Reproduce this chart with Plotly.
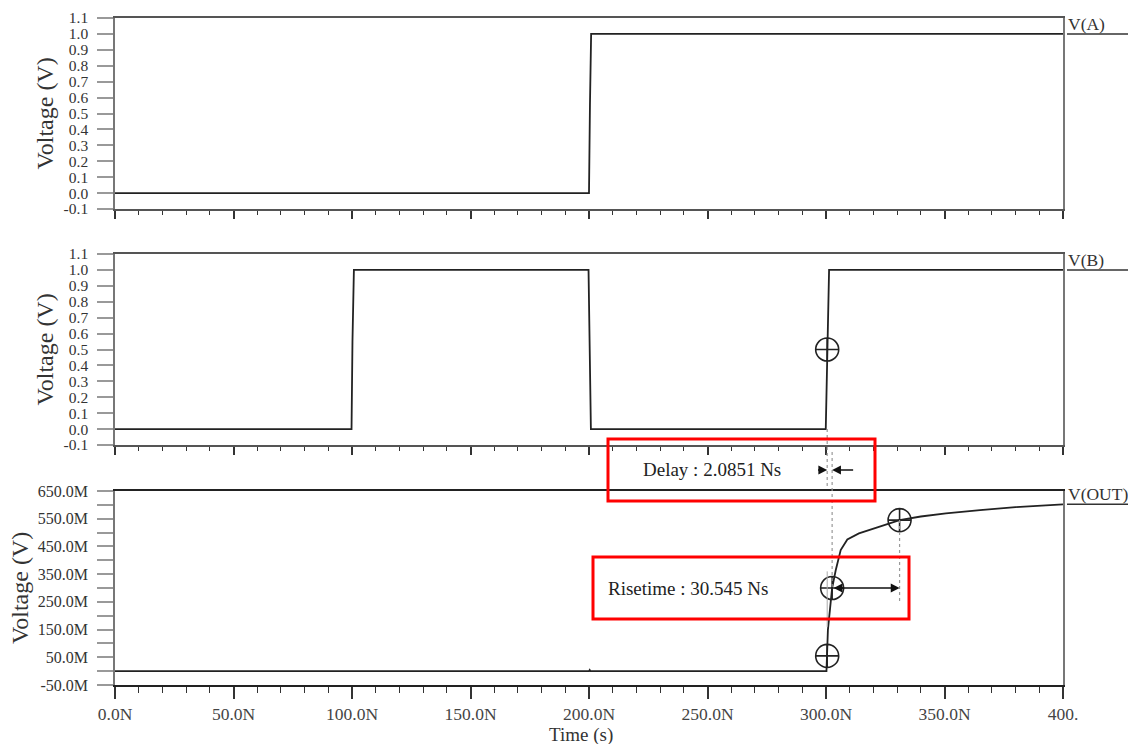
import plotly.graph_objects as go

# ---------------- data ----------------
time_a = [0, 200.0, 200.4, 200.9, 400]
v_a = [0, 0, 0.55, 1.0, 1.0]

time_b = [0, 99.8, 100.2, 100.8, 199.8, 200.2, 200.8, 299.9, 300.5, 301.3, 400]
v_b = [0, 0, 0.55, 1.0, 1.0, 0.45, 0, 0, 0.5, 1.0, 1.0]

time_out = [0, 200.0, 200.3, 200.6, 300.2, 300.5, 300.8, 301.7, 302.585, 304.1,
            306.2, 309.0, 313.9, 322.0, 331.045, 340.0, 350.6, 365.0, 380.0, 400.0]
v_out = [0, 0, 0.004, 0, 0, 0.055, 0.148, 0.225, 0.30, 0.364,
         0.437, 0.475, 0.497, 0.52, 0.545, 0.558, 0.569, 0.581, 0.592, 0.602]

delay_ns = 2.0851
rise_ns = 30.545
t50_b = 300.5                 # 50% point of V(B)
t50_out = t50_b + delay_ns    # 50% point of V(OUT)
t10_out = 300.5               # 10% point of V(OUT)
t90_out = t10_out + rise_ns   # 90% point of V(OUT)
v10_out, v50_out, v90_out = 0.055, 0.30, 0.545

x_major = [0, 50, 100, 150, 200, 250, 300, 350, 400]
x_labels = ["0.0N", "50.0N", "100.0N", "150.0N", "200.0N", "250.0N", "300.0N", "350.0N", "400."]
y_ab_vals = [-0.1, 0.0, 0.1, 0.2, 0.3, 0.4, 0.5, 0.6, 0.7, 0.8, 0.9, 1.0, 1.1]
y_ab_labels = ["-0.1", "0.0", "0.1", "0.2", "0.3", "0.4", "0.5", "0.6", "0.7", "0.8", "0.9", "1.0", "1.1"]
y_out_vals = [-0.05, 0.0, 0.05, 0.10, 0.15, 0.20, 0.25, 0.30, 0.35, 0.40, 0.45, 0.50, 0.55, 0.60, 0.65]
y_out_labels = ["-50.0M", "", "50.0M", "", "150.0M", "", "250.0M", "", "350.0M", "", "450.0M", "", "550.0M", "", "650.0M"]

# ---------------- layout geometry (page pixels; page body has an 8px margin) ----------------
BODY = 8
PAGE_W, PAGE_H = 1136, 744
PL, PR, PT, PB = 115, 1063, 18, 685          # plot area in page pixels
W, H = PAGE_W - BODY, PAGE_H - BODY
ML, MT = PL - BODY, PT - BODY
MR, MB = W + BODY - PR, H + BODY - PB
PW, PH = PR - PL, PB - PT


def px_x(p):
    return (p - PL) / PW


def px_y(p):
    return (PB - p) / PH


dom1 = [px_y(209), 1.0]
dom2 = [px_y(445), px_y(254)]
dom3 = [0.0, px_y(491)]
rng_ab = [-0.1, 1.1]
rng_out = [-0.05, 0.65]


def data_to_paper_y(v, dom, rng):
    return dom[0] + (v - rng[0]) / (rng[1] - rng[0]) * (dom[1] - dom[0])


SERIF = "Liberation Serif, Times New Roman, serif"
TRACE = "#222222"

fig = go.Figure()
line_style = dict(color=TRACE, width=1.8)
fig.add_trace(go.Scatter(x=time_a, y=v_a, mode="lines", line=line_style, xaxis="x", yaxis="y"))
fig.add_trace(go.Scatter(x=time_b, y=v_b, mode="lines", line=line_style, xaxis="x2", yaxis="y2"))
fig.add_trace(go.Scatter(x=time_out, y=v_out, mode="lines", line=line_style, xaxis="x3", yaxis="y3"))

cursor_marker = dict(symbol="circle-cross-open", size=23, color=TRACE, line=dict(width=1.6, color=TRACE))
fig.add_trace(go.Scatter(x=[t50_b], y=[0.5], mode="markers", marker=cursor_marker, xaxis="x2", yaxis="y2"))
fig.add_trace(go.Scatter(x=[t10_out, t50_out, t90_out], y=[v10_out, v50_out, v90_out], mode="markers",
                         marker=cursor_marker, xaxis="x3", yaxis="y3"))


def xaxis_cfg(anchor, bottom=False):
    cfg = dict(domain=[0, 1], range=[0, 400], anchor=anchor, showgrid=False, zeroline=False,
               showline=True, mirror=True, linecolor="#555555", linewidth=2,
               ticks="outside", tickvals=x_major, ticklen=8, tickwidth=1.5, tickcolor="#333333",
               minor=dict(tickvals=list(range(0, 401, 10)), ticks="outside", ticklen=4,
                          tickwidth=1.2, tickcolor="#333333"),
               showticklabels=False)
    if bottom:
        cfg.update(linecolor="#222222", linewidth=2.2, ticklen=12,
                   showticklabels=True, ticktext=x_labels,
                   tickfont=dict(family=SERIF, size=17.5, color="#444444"))
        cfg["minor"]["ticklen"] = 6
    return cfg


def yaxis_cfg(anchor, dom, rng, vals, labels, size):
    return dict(domain=dom, range=rng, anchor=anchor, showgrid=False, zeroline=False,
                showline=True, mirror=True, linecolor="#777777", linewidth=1.5,
                ticks="outside", ticklen=16, tickwidth=1.5, tickcolor="#999999",
                tickvals=vals, ticktext=labels, ticklabelstandoff=6,
                tickfont=dict(family=SERIF, size=size, color="#333333"))


fig.update_layout(
    width=W, height=H, margin=dict(l=ML, r=MR, t=MT, b=MB, autoexpand=False),
    paper_bgcolor="white", plot_bgcolor="white", showlegend=False,
    xaxis=xaxis_cfg("y"), xaxis2=xaxis_cfg("y2"), xaxis3=xaxis_cfg("y3", bottom=True),
    yaxis=yaxis_cfg("x", dom1, rng_ab, y_ab_vals, y_ab_labels, 15.5),
    yaxis2=yaxis_cfg("x2", dom2, rng_ab, y_ab_vals, y_ab_labels, 15.5),
    yaxis3=yaxis_cfg("x3", dom3, rng_out, y_out_vals, y_out_labels, 16),
)

annotations = []
shapes = []

# y titles
for dom, cx in ((dom1, 44), (dom2, 44), (dom3, 20)):
    annotations.append(dict(text="Voltage (V)", x=px_x(cx), y=(dom[0] + dom[1]) / 2, xref="paper", yref="paper",
                            xanchor="center", yanchor="middle", textangle=-90, showarrow=False,
                            font=dict(family=SERIF, size=24, color="#333333")))
# x title
annotations.append(dict(text="Time (s)", x=px_x(581), y=px_y(735), xref="paper", yref="paper",
                        xanchor="center", yanchor="middle", showarrow=False,
                        font=dict(family=SERIF, size=19, color="#333333")))

# trace-end labels with underline
for name, yref, val in (("V(A)", "y", v_a[-1]), ("V(B)", "y2", v_b[-1]), ("V(OUT)", "y3", v_out[-1])):
    annotations.append(dict(text=name, x=px_x(1066), y=val, xref="paper", yref=yref, xanchor="left",
                            yanchor="bottom", showarrow=False, yshift=-2,
                            font=dict(family=SERIF, size=17.5, color="#333333")))
    shapes.append(dict(type="line", xref="paper", yref=yref, x0=px_x(1067), x1=px_x(1136), y0=val, y1=val,
                       line=dict(color="#333333", width=1.5)))

# measurement guide lines (dotted)
dot = dict(color="#999999", width=1.2, dash="dot")
y_b0 = data_to_paper_y(0.0, dom2, rng_ab)
shapes.append(dict(type="line", xref="x3", yref="paper", x0=t50_b, x1=t50_b, y0=y_b0, y1=px_y(488), line=dot))
shapes.append(dict(type="line", xref="x3", yref="paper", x0=t50_out, x1=t50_out, y0=px_y(452),
                   y1=data_to_paper_y(v50_out, dom3, rng_out), line=dot))
shapes.append(dict(type="line", xref="x3", yref="y3", x0=t90_out, x1=t90_out, y0=v90_out, y1=0.25, line=dot))
shapes.append(dict(type="line", xref="x3", yref="y3", x0=t10_out, x1=t10_out, y0=0.16, y1=0.36,
                   line=dict(color="#aaaaaa", width=1)))

# delay arrows (pointing inward)
y_delay = px_y(470)
arrow_common = dict(text="", showarrow=True, arrowhead=2, arrowsize=1.1, arrowwidth=1.6, arrowcolor="#111111",
                    xref="x3", yref="paper", axref="x3", ayref="pixel", ay=0, standoff=0)
annotations.append(dict(arrow_common, x=t50_b, y=y_delay, ax=t50_b - 4.5))
annotations.append(dict(arrow_common, x=t50_out, y=y_delay, ax=t50_out + 9.5))
# risetime double arrow
annotations.append(dict(text="", showarrow=True, arrowhead=2, arrowsize=1.1, arrowwidth=1.6, arrowcolor="#111111",
                        arrowside="end+start", xref="x3", yref="y3", axref="x3", ayref="y3",
                        x=t90_out, y=v50_out, ax=t50_out, ay=v50_out, standoff=0, startstandoff=0))

# measurement texts and red boxes
annotations.append(dict(text=f"Delay : {delay_ns} Ns", x=px_x(712), y=y_delay, xref="paper", yref="paper",
                        xanchor="center", yanchor="middle", showarrow=False,
                        font=dict(family=SERIF, size=19, color="#222222")))
annotations.append(dict(text=f"Risetime : {rise_ns} Ns", x=px_x(606), y=data_to_paper_y(v50_out, dom3, rng_out),
                        xref="paper", yref="paper", xanchor="left", yanchor="middle", showarrow=False,
                        font=dict(family=SERIF, size=19, color="#222222")))
red = dict(color="#ff0000", width=3)
shapes.append(dict(type="rect", xref="paper", yref="paper", x0=px_x(608), x1=px_x(875), y0=px_y(501), y1=px_y(439),
                   line=red, fillcolor="rgba(0,0,0,0)"))
shapes.append(dict(type="rect", xref="paper", yref="paper", x0=px_x(593), x1=px_x(909), y0=px_y(619), y1=px_y(557),
                   line=red, fillcolor="rgba(0,0,0,0)"))

fig.update_layout(annotations=annotations, shapes=shapes)
fig.write_html("out.html")
